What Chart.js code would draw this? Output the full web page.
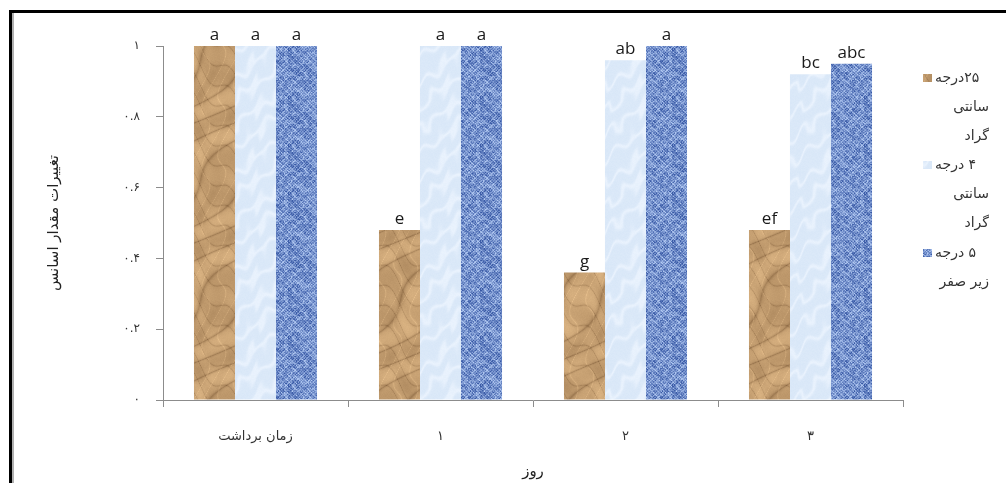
<!DOCTYPE html>
<html><head><meta charset="utf-8">
<script src="https://cdn.jsdelivr.net/npm/chart.js@4"></script>
<style>html,body{margin:0;padding:0;background:#fff;overflow:hidden}#wrap{width:1006px;height:483px;position:relative}</style>
</head><body><div id="wrap"><canvas id="c" width="1006" height="483"></canvas></div>
<script>
// ---- data ----
const categories = ['زمان برداشت', '۱', '۲', '۳'];
const seriesNames = [['۲۵درجه', 'سانتی', 'گراد'], ['۴ درجه', 'سانتی', 'گراد'], ['۵ درجه', 'زیر صفر']];
const values25 = [1.0, 0.48, 0.36, 0.48];
const values4 = [1.0, 1.0, 0.96, 0.92];
const valuesMinus5 = [1.0, 1.0, 1.0, 0.95];
const letters25 = ['a', 'e', 'g', 'ef'];
const letters4 = ['a', 'a', 'ab', 'bc'];
const lettersMinus5 = ['a', 'a', 'a', 'abc'];
const yTickLabels = ['۰', '۰.۲', '۰.۴', '۰.۶', '۰.۸', '۱'];
const yTitle = 'تغییرات مقدار اسانس';
const xTitle = 'روز';

// ---- textures ----
function makeTexture(w, h, fn) {
  const cv = document.createElement('canvas');
  cv.width = w; cv.height = h;
  const cx = cv.getContext('2d');
  const img = cx.createImageData(w, h);
  for (let y = 0; y < h; y++) for (let x = 0; x < w; x++) {
    const c = fn(x, y); const k = (y * w + x) * 4;
    img.data[k] = Math.max(0, Math.min(255, c[0]));
    img.data[k + 1] = Math.max(0, Math.min(255, c[1]));
    img.data[k + 2] = Math.max(0, Math.min(255, c[2]));
    img.data[k + 3] = 255;
  }
  cx.putImageData(img, 0, 0);
  return cv;
}
function hash(x, y) { const s = Math.sin(x * 12.9898 + y * 78.233) * 43758.5453; return s - Math.floor(s); }
const TW = Math.PI * 2;
const brownTex = makeTexture(80, 120, (x, y) => {
  const u = x / 80, v = y / 120;
  const w1 = Math.sin(TW * (u * 1 + v * 2) + Math.sin(TW * v) * 1.7);
  const w2 = Math.sin(TW * (u * 2 - v * 3) + 0.8 + Math.sin(TW * u * 2) * 1.2);
  const w3 = Math.sin(TW * (u * 3 + v * 1) + 2.1 + Math.sin(TW * (v * 2 + u)) * 1.5);
  const c1 = Math.pow(1 - Math.abs(w1), 6), c2 = Math.pow(1 - Math.abs(w2), 8), c3 = Math.pow(1 - Math.abs(w3), 10);
  const shade = 0.35 * w1 + 0.25 * w2 + 0.15 * w3;
  const s = shade * 0.6 - c1 * 0.9 - c2 * 0.7 + c3 * 0.5 + (hash(x, y) - 0.5) * 0.12;
  return [198 + 40 * s, 160 + 38 * s, 114 + 32 * s];
});
const lightTex = makeTexture(64, 96, (x, y) => {
  const u = x / 64, v = y / 96;
  const n = Math.sin(TW * (u * 2 + v * 3) + Math.sin(TW * u * 2) * 2) * 0.5 + Math.sin(TW * (u * 3 - v * 1)) * 0.5;
  const l = Math.pow(Math.abs(Math.sin(TW * (u * 1 + v * 2) + n)), 8);
  const s = l * 0.8 + (hash(x, y) - 0.5) * 0.2;
  return [218 + 18 * s, 232 + 12 * s, 248 + 6 * s];
});
const darkTex = makeTexture(48, 48, (x, y) => {
  const wv = Math.sin(x * 2.1) * Math.sin(y * 2.1);
  const cell = ((Math.floor(x / 3) + Math.floor(y / 3)) % 2) ? 0.1 : -0.1;
  const nz = (hash(x, y) - 0.5) * 0.45 + (hash(Math.floor(x / 4), Math.floor(y / 4)) - 0.5) * 0.35;
  const t = Math.max(0, Math.min(1, 0.5 + wv * 0.3 + cell + nz));
  return [55 + 125 * t, 88 + 115 * t, 165 + 78 * t];
});

const canvas = document.getElementById('c');
const ctx0 = canvas.getContext('2d');
const fills = [ctx0.createPattern(brownTex, 'repeat'), ctx0.createPattern(lightTex, 'repeat'), ctx0.createPattern(darkTex, 'repeat')];
const seriesValues = [values25, values4, valuesMinus5];
const seriesLetters = [letters25, letters4, lettersMinus5];

const AR_FONT = '"DejaVu Sans", "Noto Sans", sans-serif';

const framePlugin = {
  id: 'frame',
  beforeDraw(chart) {
    const c = chart.ctx; c.save(); c.fillStyle = '#fff'; c.fillRect(0, 0, chart.width, chart.height); c.restore();
  },
  afterDraw(chart) {
    const c = chart.ctx; c.save();
    c.fillStyle = '#000';
    c.fillRect(9, 10, chart.width - 9, 3);
    c.fillRect(9, 10, 3, chart.height - 10);
    c.fillStyle = '#b0b0b0';
    c.fillRect(12, 13, 2, chart.height - 13);
    c.restore();
  }
};

const lettersPlugin = {
  id: 'letters',
  afterDatasetsDraw(chart) {
    const c = chart.ctx; c.save();
    c.font = '17px "Open Sans", "DejaVu Sans", sans-serif';
    c.fillStyle = '#1a1a1a'; c.textAlign = 'center'; c.textBaseline = 'alphabetic';
    chart.data.datasets.forEach((ds, i) => {
      chart.getDatasetMeta(i).data.forEach((bar, j) => {
        c.fillText(seriesLetters[i][j], bar.x, bar.y - 6);
      });
    });
    c.restore();
  }
};

const legendPlugin = {
  id: 'rtlLegend',
  afterDraw(chart) {
    const c = chart.ctx; c.save();
    c.font = '14px ' + AR_FONT; c.textBaseline = 'middle';
    const starts = [78, 165, 253];
    chart.data.datasets.forEach((ds, i) => {
      const lines = seriesNames[i];
      const y0 = starts[i];
      c.fillStyle = fills[i];
      c.fillRect(923, y0 - 4, 9, 8);
      c.fillStyle = '#333';
      c.direction = 'rtl';
      c.textAlign = 'left';
      c.fillText(lines[0], 935, y0);
      c.textAlign = 'right';
      for (let k = 1; k < lines.length; k++) c.fillText(lines[k], 989, y0 + k * 29);
    });
    c.restore();
  }
};

new Chart(canvas, {
  type: 'bar',
  data: {
    labels: categories,
    datasets: seriesValues.map((vals, i) => ({
      label: seriesNames[i].join(' '),
      data: vals,
      backgroundColor: fills[i],
      borderWidth: 0,
      categoryPercentage: 0.665,
      barPercentage: 1.0
    }))
  },
  options: {
    responsive: false, animation: false, devicePixelRatio: 1,
    layout: { padding: { top: 46, right: 103, left: 0, bottom: 0 } },
    plugins: { legend: { display: false }, tooltip: { enabled: false } },
    scales: {
      x: {
        afterFit(s) { s.height = 83; },
        grid: { drawOnChartArea: false, color: '#8c8c8c', tickLength: 7, offset: true },
        border: { color: '#8c8c8c' },
        ticks: { color: '#333', font: { family: AR_FONT, size: 13 }, padding: 22, maxRotation: 0 },
        title: { display: true, text: xTitle, color: '#222', font: { family: AR_FONT, size: 15 }, padding: { top: 0, bottom: 2 } }
      },
      y: {
        min: 0, max: 1,
        afterFit(s) { s.width = 163; },
        grid: { drawOnChartArea: false, color: '#8c8c8c', tickLength: 7 },
        border: { color: '#8c8c8c' },
        ticks: { stepSize: 0.2, color: '#333', font: { family: AR_FONT, size: 12 }, padding: 16,
          callback: (v, i) => yTickLabels[i] },
        title: { display: true, text: yTitle, color: '#222', font: { family: AR_FONT, size: 15 }, padding: { top: 45, bottom: 0 } }
      }
    }
  },
  plugins: [framePlugin, lettersPlugin, legendPlugin]
});
</script>
</body></html>
